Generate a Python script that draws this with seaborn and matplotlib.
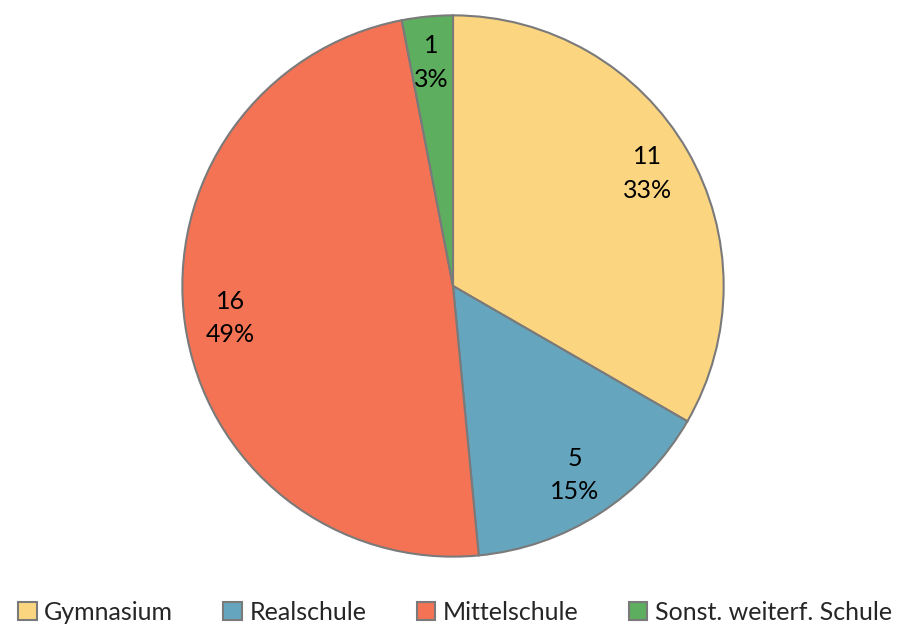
import matplotlib
matplotlib.use("Agg")
import matplotlib.pyplot as plt
import seaborn as sns

# Schulart data
categories = ["Gymnasium", "Realschule", "Mittelschule", "Sonst. weiterf. Schule"]
counts = [11, 5, 16, 1]
pct_labels = ["33%", "15%", "49%", "3%"]
colors = ["#FCD581", "#65A6BE", "#F47355", "#5DAE5E"]

sns.set_theme(style="white")
plt.rcParams['font.family'] = ['Lato', 'DejaVu Sans']

fig = plt.figure(figsize=(9.10, 6.33), dpi=100)
cx, cy, r = 453, 286, 272
ax = fig.add_axes([(cx - r) / 910, (633 - cy - r) / 633, 2 * r / 910, 2 * r / 633])

labels = [f"{n}\n{p}" for n, p in zip(counts, pct_labels)]
wedges, texts = ax.pie(counts, colors=colors, startangle=90, counterclock=False,
                       labels=labels, labeldistance=0.83,
                       wedgeprops=dict(edgecolor="#7a7a7a", linewidth=1.5),
                       textprops=dict(fontsize=18, color="black", linespacing=1.55))
for t in texts:
    t.set_ha("center")
    t.set_va("center")
ax.set_xlim(-1.005, 1.005)
ax.set_ylim(-1.005, 1.005)
ax.set_aspect("equal")

fig.legend(wedges, categories, loc="center", bbox_to_anchor=(0.5, 1 - 612 / 633),
           ncol=4, frameon=False, fontsize=18, handlelength=0.75, handleheight=0.75,
           handletextpad=0.3, columnspacing=2.0, borderaxespad=0)

fig.savefig("out.png", dpi=100)
